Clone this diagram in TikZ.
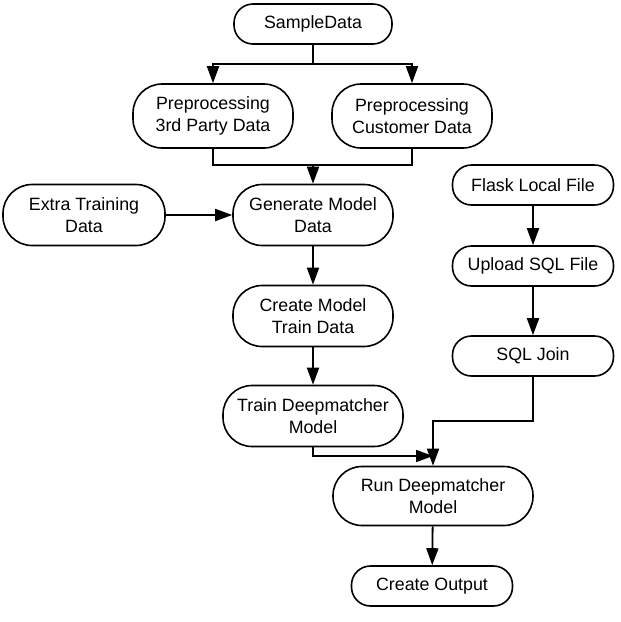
\documentclass[tikz,border=0pt]{standalone}
\usepackage{fontspec}
\setmainfont{Liberation Sans}
\usepackage{tikz}
\usetikzlibrary{
  arrows.meta,  % Triangle arrow tips
  calc          % coordinate calculations
}
\tikzset{
  flow/.style={
    line width=1.8pt,
    -{Triangle[length=17pt, width=12pt]}
  },
  joinline/.style={
    line width=1.8pt
  },
  pill/.style={
    draw,
    line width=1.6pt,
    inner sep=0pt,
    align=center,
    rounded corners=19pt,
    minimum width=160pt,
    minimum height=40pt,
    font=\fontsize{17.8}{22}\selectfont
  },
  tallpill/.style={
    pill,
    rounded corners=29pt,
    minimum height=61pt
  }
}

\begin{document}
\begin{tikzpicture}[x=1pt, y=-1pt]
    \useasboundingbox (0,0) rectangle (621,622);

    % --- left branch: data preparation ---
    \node[pill, minimum width=158pt] (sample) at (313,24) {SampleData};
    \node[tallpill, minimum height=64pt] (pre3) at (213,116) {Preprocessing\\3rd Party Data};
    \node[tallpill, minimum height=64pt] (precust) at (412,116) {Preprocessing\\Customer Data};
    \node[tallpill, minimum width=162pt] (extra) at (84,215) {Extra Training\\Data};
    \node[tallpill] (gen) at (313,215) {Generate Model\\Data};
    \node[tallpill] (cmtd) at (313,316) {Create Model\\Train Data};
    \node[tallpill, minimum width=180pt] (train) at (313,416) {Train Deepmatcher\\Model};

    % --- right branch: SQL side ---
    \node[pill, minimum width=161pt] (flask) at (533,185) {Flask Local File};
    \node[pill, minimum width=161pt] (upload) at (533,266) {Upload SQL File};
    \node[pill, minimum width=161pt] (sqljoin) at (533,356) {SQL Join};

    % --- bottom ---
    \node[tallpill, minimum width=200pt, minimum height=59pt] (run) at (433,496) {Run Deepmatcher\\Model};
    \node[pill, minimum width=161pt] (output) at (432,586) {Create Output};

    % helper points for the elbow connectors
    \coordinate (split) at (313,64);
    \coordinate (merge) at (313,165);
    \coordinate (meet) at (433,456);
    \coordinate (bend) at (533,421);

    % fan out from SampleData
    \draw[joinline] (sample.south) -- (split);
    \draw[flow] (split) -| (pre3.north);
    \draw[flow] (split) -| (precust.north);

    % merge into Generate Model Data
    \draw[joinline] (pre3.south) |- (merge) -| (precust.south);
    \draw[flow] (merge) -- (gen.north);
    \draw[flow] (extra.east) -- (gen.west);

    % main chain
    \draw[flow] (gen) -- (cmtd);
    \draw[flow] (cmtd) -- (train);
    \draw[flow] (train.south) |- (meet);

    % SQL chain
    \draw[flow] (flask) -- (upload);
    \draw[flow] (upload) -- (sqljoin);
    \draw[flow] (sqljoin.south) -- (bend) -| (run.north);

    \draw[flow] (run) -- (output);
\end{tikzpicture}
\end{document}
